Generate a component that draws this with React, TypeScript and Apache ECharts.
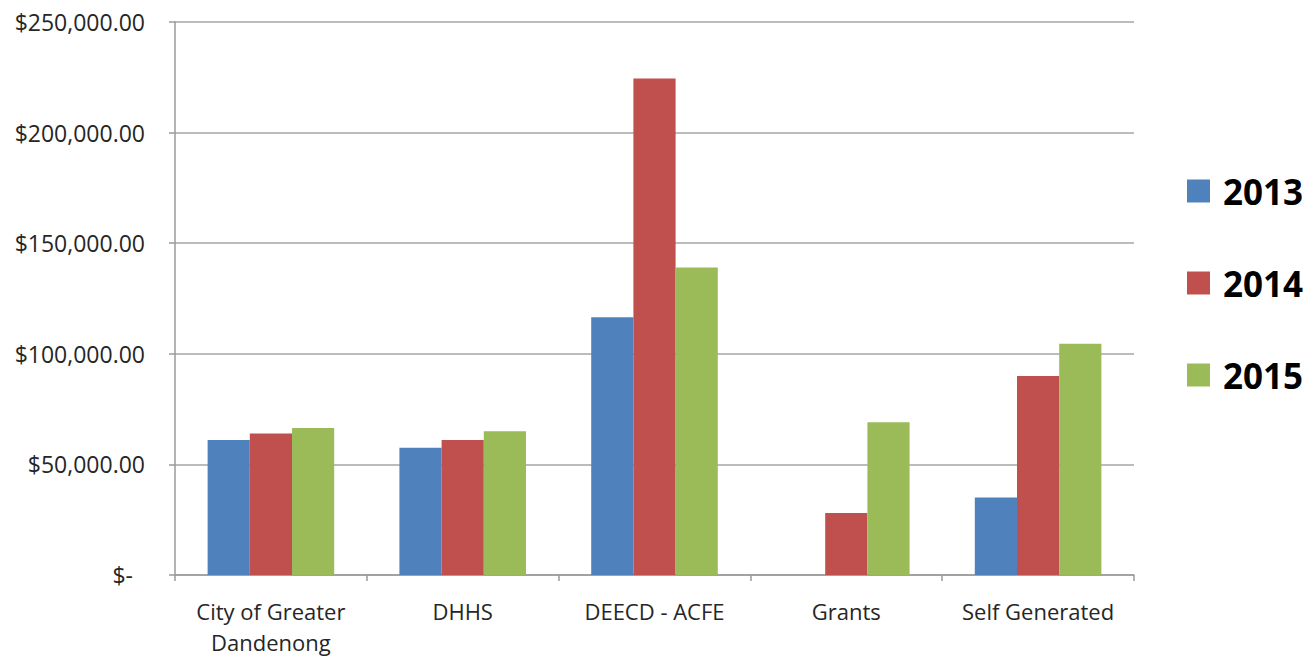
import React, { useEffect, useRef } from "react";
import * as echarts from "echarts";

const categories = ["City of Greater\nDandenong", "DHHS", "DEECD - ACFE", "Grants", "Self Generated"];
const seriesNames = ["2013", "2014", "2015"];
const values2013 = [61000, 57500, 116500, 0, 35000];
const values2014 = [64000, 61000, 224500, 28000, 90000];
const values2015 = [66500, 65000, 139000, 69000, 104500];
const colors = ["#4F81BD", "#C0504D", "#9BBB59"];
const yTicks = [0, 50000, 100000, 150000, 200000, 250000];

function fmt(v: number): string {
  if (v === 0) return "{z|$-}";
  return "$" + v.toLocaleString("en-US", { minimumFractionDigits: 2, maximumFractionDigits: 2 });
}

export default function App() {
  const ref = useRef<HTMLDivElement>(null);
  useEffect(() => {
    if (!ref.current) return;
    const chart = echarts.init(ref.current, undefined, { renderer: "svg" });
    const data = [values2013, values2014, values2015];
    chart.setOption({
      animation: false,
      backgroundColor: "#ffffff",
      textStyle: { fontFamily: "Open Sans" },
      grid: { left: 175, right: 173, top: 22, bottom: 79, containLabel: false },
      legend: {
        orient: "vertical",
        left: 1182,
        top: 166,
        itemWidth: 23,
        itemHeight: 23,
        itemGap: 52,
        icon: "rect",
        data: seriesNames,
        textStyle: {
          fontFamily: "Open Sans",
          fontWeight: "bold",
          fontSize: 35,
          color: "#000000",
          lineHeight: 40,
          padding: [0, 0, 0, 8],
        },
      },
      xAxis: {
        type: "category",
        data: categories,
        axisLine: { lineStyle: { color: "#9a9a9a", width: 1.5 } },
        axisTick: { show: true, alignWithLabel: false, interval: 0, length: 6, lineStyle: { color: "#9a9a9a", width: 1.5 } },
        axisLabel: {
          interval: 0,
          margin: 20,
          fontFamily: "Open Sans",
          fontSize: 22,
          lineHeight: 31,
          color: "#262626",
        },
      },
      yAxis: {
        type: "value",
        min: yTicks[0],
        max: yTicks[yTicks.length - 1],
        interval: 50000,
        axisLine: { show: true, lineStyle: { color: "#9a9a9a", width: 1.5 } },
        axisTick: { show: true, length: 6, lineStyle: { color: "#9a9a9a", width: 1.5 } },
        splitLine: { show: true, lineStyle: { color: "#a6a6a6", width: 1.5 } },
        axisLabel: {
          margin: 30,
          fontFamily: "Open Sans",
          fontSize: 23,
          color: "#262626",
          formatter: (v: number) => fmt(v),
          rich: {
            z: { fontFamily: "Open Sans", fontSize: 23, color: "#262626", padding: [0, 12, 0, 0] },
          },
        },
      },
      series: seriesNames.map((name, i) => ({
        name,
        type: "bar",
        data: data[i],
        barGap: "0%",
        barCategoryGap: "34%",
        itemStyle: { color: colors[i] },
      })),
    });
    return () => chart.dispose();
  }, []);
  return <div ref={ref} style={{ position: "fixed", left: 0, top: 0, width: 1307, height: 657 }} />;
}
